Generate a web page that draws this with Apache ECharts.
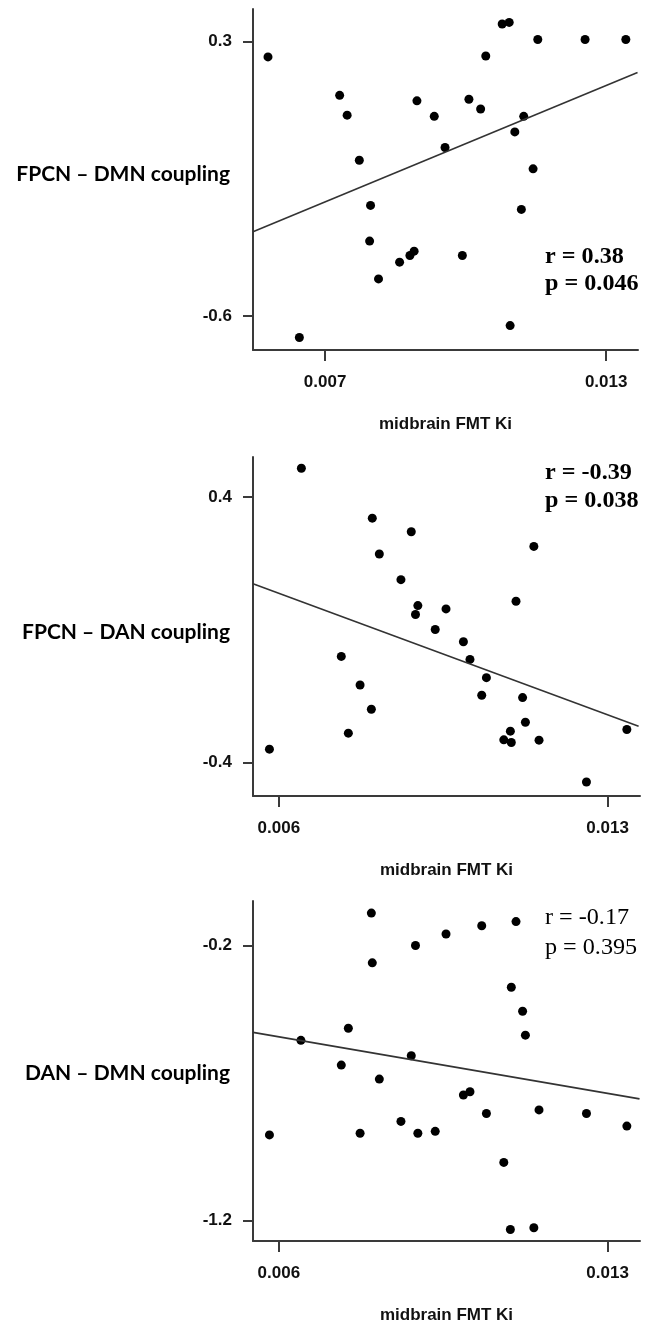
<!DOCTYPE html>
<html lang="en">
<head>
    <meta charset="UTF-8">
    <title>midbrain FMT Ki coupling</title>
    <script src="https://cdn.jsdelivr.net/npm/echarts@6.0.0/dist/echarts.min.js"></script>
    <style>
        html, body { margin: 0; padding: 0; background: #fff; }
        #chart { width: 655px; height: 1325px; }
    </style>
</head>
<body>
    <div id="chart"></div>
    <script>
        // values
        var xName = 'midbrain FMT Ki';
        var yNames = ['FPCN \u2013 DMN coupling', 'FPCN \u2013 DAN coupling', 'DAN \u2013 DMN coupling'];
        var statsR = ['r = 0.38', 'r = -0.39', 'r = -0.17'];
        var statsP = ['p = 0.046', 'p = 0.038', 'p = 0.395'];

        var xTicks = [[0.007, 0.013], [0.006, 0.013], [0.006, 0.013]];
        var yTicks = [[0.3, -0.6], [0.4, -0.4], [-0.2, -1.2]];
        var xRange = [[0.00546, 0.01368], [0.00545, 0.01369], [0.00545, 0.01369]];
        var yRange = [[-0.712, 0.406], [-0.500, 0.520], [-1.275, -0.038]];

        var p1x = [0.00578, 0.00645, 0.00731, 0.00747, 0.00773, 0.00797, 0.00795, 0.00814, 0.00859, 0.00881, 0.00890, 0.00896, 0.00933, 0.00956, 0.00993, 0.01007, 0.01032, 0.01043, 0.01078, 0.01093, 0.01095, 0.01105, 0.01119, 0.01124, 0.01144, 0.01154, 0.01255, 0.01342];
        var p1y = [0.249, -0.671, 0.123, 0.058, -0.090, -0.238, -0.355, -0.479, -0.424, -0.402, -0.388, 0.105, 0.054, -0.048, -0.402, 0.110, 0.078, 0.252, 0.357, 0.362, -0.632, 0.003, -0.251, 0.054, -0.118, 0.306, 0.306, 0.306];
        var fit1x = [0.00546, 0.01367];
        var fit1y = [-0.324, 0.198];

        var p2x = [0.00648, 0.00580, 0.00733, 0.00748, 0.00773, 0.00797, 0.00799, 0.00814, 0.00860, 0.00882, 0.00891, 0.00896, 0.00933, 0.00956, 0.00993, 0.01007, 0.01042, 0.01032, 0.01079, 0.01093, 0.01095, 0.01105, 0.01119, 0.01125, 0.01143, 0.01154, 0.01255, 0.01341];
        var p2y = [0.486, -0.359, -0.080, -0.311, -0.166, -0.239, 0.336, 0.228, 0.151, 0.295, 0.046, 0.073, 0.001, 0.063, -0.036, -0.089, -0.144, -0.197, -0.331, -0.305, -0.339, 0.086, -0.204, -0.278, 0.251, -0.332, -0.458, -0.300];
        var fit2x = [0.00545, 0.01366];
        var fit2y = [0.139, -0.290];

        var p3x = [0.00580, 0.00647, 0.00733, 0.00748, 0.00773, 0.00797, 0.00799, 0.00814, 0.00860, 0.00882, 0.00891, 0.00896, 0.00933, 0.00956, 0.00993, 0.01007, 0.01032, 0.01042, 0.01079, 0.01093, 0.01095, 0.01105, 0.01119, 0.01125, 0.01143, 0.01154, 0.01255, 0.01341];
        var p3y = [-0.889, -0.545, -0.635, -0.501, -0.883, -0.082, -0.263, -0.686, -0.840, -0.601, -0.200, -0.883, -0.876, -0.158, -0.744, -0.732, -0.128, -0.811, -0.989, -1.233, -0.352, -0.113, -0.439, -0.526, -1.227, -0.798, -0.811, -0.857];
        var fit3x = [0.00545, 0.01368];
        var fit3y = [-0.516, -0.758];

        var pointsX = [p1x, p2x, p3x];
        var pointsY = [p1y, p2y, p3y];
        var fitX = [fit1x, fit2x, fit3x];
        var fitY = [fit1y, fit2y, fit3y];

        function pairs(xs, ys) {
            return xs.map(function (x, i) { return [x, ys[i]]; });
        }

        // layout of the three panels
        var gridTop = [9, 457, 901];
        var gridHeight = [341, 339, 340];
        var gridRight = [17, 15, 15];
        var nameY = [174, 632, 1073];
        var statY = [[257, 284], [473, 501], [918, 948]];
        var statBold = [true, true, false];

        var axisColor = '#3a3a3a';
        var labelFont = {
            color: '#111',
            fontFamily: 'Liberation Sans, Arial, sans-serif',
            fontWeight: 'bold',
            fontSize: 17
        };

        var grids = [], xAxes = [], yAxes = [], series = [], graphics = [];
        for (var k = 0; k < 3; k++) {
            grids.push({ left: 253, right: gridRight[k], top: gridTop[k], height: gridHeight[k] });
            xAxes.push({
                type: 'value', gridIndex: k,
                min: xRange[k][0], max: xRange[k][1],
                name: xName, nameLocation: 'middle', nameGap: 66,
                nameTextStyle: labelFont,
                axisLine: { onZero: false, lineStyle: { color: axisColor, width: 2 } },
                axisTick: { customValues: xTicks[k], length: 11, lineStyle: { color: axisColor, width: 2 } },
                axisLabel: Object.assign({ customValues: xTicks[k], margin: 24 }, labelFont),
                splitLine: { show: false }
            });
            yAxes.push({
                type: 'value', gridIndex: k,
                min: yRange[k][0], max: yRange[k][1],
                axisLine: { show: true, onZero: false, lineStyle: { color: axisColor, width: 2 } },
                axisTick: { show: true, customValues: yTicks[k], length: 10, lineStyle: { color: axisColor, width: 2 } },
                axisLabel: Object.assign({ customValues: yTicks[k], margin: 21 }, labelFont),
                splitLine: { show: false }
            });
            series.push({
                type: 'scatter', xAxisIndex: k, yAxisIndex: k,
                data: pairs(pointsX[k], pointsY[k]),
                symbol: 'circle', symbolSize: 9,
                itemStyle: { color: '#000', opacity: 1 },
                silent: true
            });
            series.push({
                type: 'line', xAxisIndex: k, yAxisIndex: k,
                data: pairs(fitX[k], fitY[k]),
                showSymbol: false,
                lineStyle: { color: '#333', width: 1.6 },
                silent: true
            });
            graphics.push({
                type: 'text', x: 230, y: nameY[k],
                style: {
                    text: yNames[k], fill: '#000',
                    font: 'bold 21px Lato, "Open Sans", sans-serif',
                    textAlign: 'right', textVerticalAlign: 'middle'
                }
            });
            var f = (statBold[k] ? 'bold ' : '') + '23px "Liberation Serif", "Times New Roman", serif';
            graphics.push({
                type: 'text', x: 545, y: statY[k][0], scaleX: 1.05,
                style: { text: statsR[k], fill: '#000', font: f, textAlign: 'left', textVerticalAlign: 'middle' }
            });
            graphics.push({
                type: 'text', x: 545, y: statY[k][1], scaleX: 1.05,
                style: { text: statsP[k], fill: '#000', font: f, textAlign: 'left', textVerticalAlign: 'middle' }
            });
        }

        var myChart = echarts.init(document.getElementById('chart'), null, { renderer: 'canvas' });
        var option = {
            animation: false,
            backgroundColor: '#fff',
            grid: grids,
            xAxis: xAxes,
            yAxis: yAxes,
            series: series,
            graphic: graphics
        };
        myChart.setOption(option);
    </script>
</body>
</html>
